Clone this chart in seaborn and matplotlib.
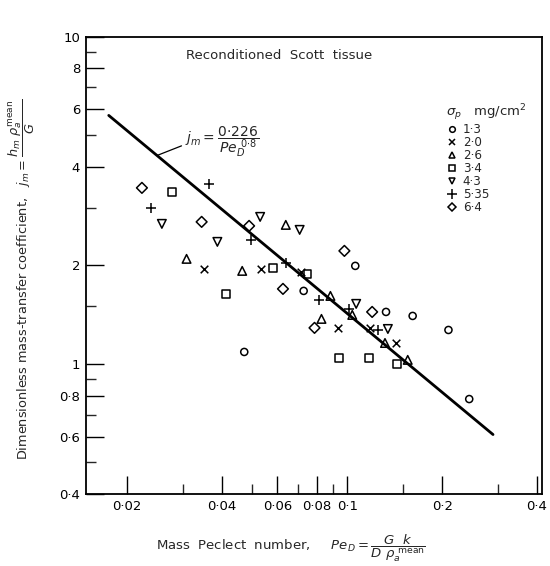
import numpy as np
import pandas as pd
import matplotlib
matplotlib.use("Agg")
import matplotlib.pyplot as plt
import seaborn as sns
from matplotlib.lines import Line2D
from matplotlib.ticker import FixedLocator, NullFormatter

# ---- data ----
sigma_labels = ["1·3", "2·0", "2·6", "3·4", "4·3", "5·35", "6·4"]
markers = ["o", "x", "^", "s", "v", "+", "D"]
marker_sizes = [26, 30, 38, 32, 38, 60, 30]

pe_13 = [0.0471, 0.0727, 0.106, 0.1327, 0.1612, 0.2094, 0.2437]
j_13 = [1.088, 1.672, 1.994, 1.442, 1.402, 1.27, 0.781]

pe_20 = [0.035, 0.0533, 0.0711, 0.0937, 0.1181, 0.1426]
j_20 = [1.952, 1.952, 1.911, 1.289, 1.289, 1.159]

pe_26 = [0.0309, 0.0464, 0.0638, 0.0884, 0.0828, 0.1037, 0.1317, 0.1555]
j_26 = [2.095, 1.925, 2.661, 1.614, 1.373, 1.412, 1.159, 1.029]

pe_34 = [0.0278, 0.0413, 0.0581, 0.0748, 0.0944, 0.1173, 0.1437]
j_34 = [3.357, 1.637, 1.966, 1.885, 1.043, 1.043, 1.0]

pe_43 = [0.0258, 0.0387, 0.0529, 0.0706, 0.1067, 0.1345]
j_43 = [2.68, 2.361, 2.815, 2.569, 1.526, 1.279]

pe_535 = [0.0238, 0.0365, 0.0495, 0.0638, 0.0816, 0.1015, 0.1252]
j_535 = [3.0, 3.552, 2.394, 2.036, 1.569, 1.473, 1.27]

pe_64 = [0.0223, 0.0345, 0.0488, 0.0625, 0.0787, 0.0979, 0.1199]
j_64 = [3.453, 2.718, 2.642, 1.696, 1.289, 2.216, 1.442]

series_pe = [pe_13, pe_20, pe_26, pe_34, pe_43, pe_535, pe_64]
series_j = [j_13, j_20, j_26, j_34, j_43, j_535, j_64]

# correlation line j_m = 0.226 / Pe_D^0.8
fit_coef = 0.226
fit_exp = 0.8
fit_range = [0.0175, 0.29]

x_major = [0.02, 0.04, 0.06, 0.08, 0.1, 0.2, 0.4]
x_major_labels = ["0·02", "0·04", "0·06", "0·08", "0·1", "0·2", "0·4"]
x_minor = [0.03, 0.05, 0.07, 0.09, 0.15, 0.3]
y_major = [0.4, 0.6, 0.8, 1, 2, 4, 6, 8, 10]
y_major_labels = ["0·4", "0·6", "0·8", "1", "2", "4", "6", "8", "10"]
y_minor = [0.5, 0.7, 0.9, 1.5, 3, 5, 7, 9]

# ---- style ----
sns.set_style("ticks")
plt.rcParams["font.family"] = ["DejaVu Sans"]
plt.rcParams["mathtext.fontset"] = "dejavusans"

fig = plt.figure(figsize=(5.5, 5.66), dpi=100)
ax = fig.add_axes([0.156, 0.127, 0.829, 0.808])

for pe, j, m, s in zip(series_pe, series_j, markers, marker_sizes):
    df = pd.DataFrame({"pe": pe, "j": j})
    if m in ("x", "+"):
        sns.scatterplot(data=df, x="pe", y="j", marker=m, s=s, color="black",
                        linewidth=1.1, ax=ax, zorder=3)
    else:
        sns.scatterplot(data=df, x="pe", y="j", marker=m, s=s, facecolors="none",
                        edgecolor="black", linewidth=1.1, ax=ax, zorder=3)

fit_x = np.array(fit_range)
fit_df = pd.DataFrame({"pe": fit_x, "j": fit_coef / fit_x ** fit_exp})
sns.lineplot(data=fit_df, x="pe", y="j", color="black", lw=2.0, ax=ax, zorder=2)

ax.set_xscale("log")
ax.set_yscale("log")
ax.set_xlim(0.0148, 0.414)
ax.set_ylim(0.4, 10)

ax.xaxis.set_major_locator(FixedLocator(x_major))
ax.set_xticklabels(x_major_labels)
ax.xaxis.set_minor_locator(FixedLocator(x_minor))
ax.xaxis.set_minor_formatter(NullFormatter())
ax.yaxis.set_major_locator(FixedLocator(y_major))
ax.set_yticklabels(y_major_labels)
ax.yaxis.set_minor_locator(FixedLocator(y_minor))
ax.yaxis.set_minor_formatter(NullFormatter())

ax.tick_params(which="major", direction="in", length=13, width=1.0,
               labelsize=9.5, colors="black", pad=4)
ax.tick_params(which="minor", direction="in", length=7, width=1.0)
for sp in ax.spines.values():
    sp.set_linewidth(1.3)
    sp.set_color("black")

ax.set_xlabel(r"Mass  Peclect  number,     $Pe_D=\dfrac{G\ \ k}{D\ \rho_a^{\ \mathrm{mean}}}$",
              fontsize=9.5)
ax.xaxis.set_label_coords(0.45, -0.085)
ax.set_ylabel(r"Dimensionless mass-transfer coefficient,   $j_m=\dfrac{h_m\ \rho_a^{\mathrm{mean}}}{G}$",
              fontsize=9.3)
ax.yaxis.set_label_coords(-0.108, 0.47)

ax.text(0.425, 0.96, "Reconditioned  Scott  tissue", transform=ax.transAxes,
        ha="center", va="center", fontsize=9.5)

# annotation of the correlation
xa = 0.0249
ax.annotate(r"$j_m=\dfrac{0{\cdot}226}{Pe_D^{\ 0{\cdot}8}}$",
            xy=(xa, fit_coef / xa ** fit_exp), xytext=(0.0305, 4.8),
            textcoords="data", ha="left", va="center", fontsize=10,
            arrowprops=dict(arrowstyle="-", color="black", lw=0.9,
                            shrinkA=0, shrinkB=0, relpos=(0.0, 0.4)))

# legend
handles = []
for m, s in zip(markers, marker_sizes):
    if m in ("x", "+"):
        h = Line2D([], [], linestyle="none", marker=m, color="black",
                   markersize=np.sqrt(s) * 0.9, markeredgewidth=1.1)
    else:
        h = Line2D([], [], linestyle="none", marker=m, markerfacecolor="none",
                   markeredgecolor="black", markersize=np.sqrt(s) * 0.8,
                   markeredgewidth=1.1)
    handles.append(h)
leg = ax.legend(handles, sigma_labels, title=r"$\sigma_p$   mg/cm$^2$",
                loc="upper left", bbox_to_anchor=(0.772, 0.875), frameon=False,
                fontsize=8.6, title_fontsize=9.5, handletextpad=0.4,
                labelspacing=0.0, handlelength=1.0, borderpad=0.2)
leg._legend_box.align = "left"

fig.savefig("out.png", dpi=100, facecolor="white")
